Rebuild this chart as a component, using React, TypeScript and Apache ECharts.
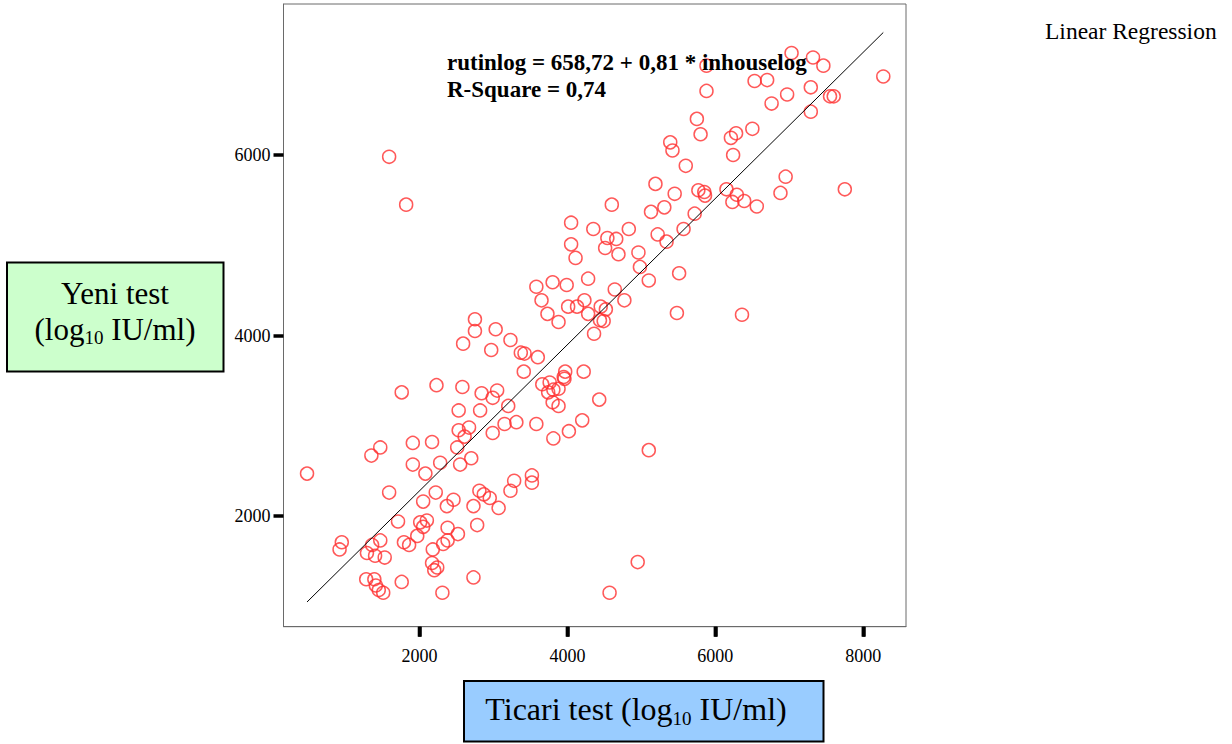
import React, { useEffect, useRef } from "react";
import * as echarts from "echarts";

// Ticari test (x) values
const ticariTest = [
  7030, 7320, 7460, 5880, 8270, 6530, 6700, 5880, 7290, 6970,
  6760, 7550, 7600, 7290, 5750, 5800, 6500, 6280, 6210, 5390,
  5420, 6240, 1590, 5600, 6950, 7750, 6880, 5190, 5450, 5770,
  5850, 5860, 6150, 6290, 6230, 6390, 6560, 4600, 5130, 5310,
  5720, 1820, 4050, 4350, 4830, 5570, 4540, 4660, 4510, 4690,
  5220, 5340, 4960, 4050, 4110, 4980, 5100, 5510, 4280, 3580,
  3800, 3990, 4640, 3650, 3730, 3880, 4010, 4130, 4230, 4280,
  4450, 4520, 4440, 4490, 4360, 4770, 5480, 6360, 2750, 2750,
  3030, 3230, 2590, 2970, 3370, 3420, 3600, 3410, 4430, 4220,
  1760, 2230, 2580, 2840, 3050, 2990, 3200, 2530, 2820, 3660,
  3760, 3810, 3880, 3740, 3970, 3950, 3960, 3800, 3880, 4200,
  4020, 3810, 3580, 3310, 3150, 2990, 2530, 2670, 2610, 2510,
  2700, 1910, 2170, 1470, 1350, 5100, 2550, 2280, 2080, 1910,
  480, 1590, 2220, 2050, 2370, 2460, 2730, 2810, 2870, 2950,
  3070, 3230, 3280, 3520, 3520, 1710, 2010, 2100, 2050, 1970,
  2380, 2520, 2380, 2320, 2780, 1790, 1860, 2180, 1470, 1360,
  1290, 1400, 1530, 950, 920, 2170, 2200, 2240, 1280, 1390,
  1410, 1450, 1510, 1760, 2310, 2730, 4950, 4570,
];

// Yeni test (y) values
const yeniTest = [
  7130, 7080, 6990, 6990, 6870, 6820, 6830, 6710, 6750, 6670,
  6570, 6650, 6650, 6480, 6400, 6230, 6290, 6240, 6190, 6140,
  6050, 6000, 5980, 5880, 5760, 5620, 5580, 5680, 5570, 5610,
  5590, 5550, 5620, 5560, 5480, 5490, 5430, 5450, 5370, 5420,
  5350, 5450, 5250, 5180, 5180, 5180, 5080, 5070, 4970, 4900,
  5120, 5040, 4920, 5010, 4860, 4760, 4610, 4690, 4630, 4540,
  4590, 4560, 4510, 4390, 4240, 4150, 4320, 4320, 4390, 4240,
  4320, 4290, 4170, 4160, 4020, 4390, 4250, 4230, 4180, 4050,
  4070, 3950, 3910, 3840, 3810, 3800, 3760, 3600, 3290, 3600,
  3370, 3450, 3430, 3360, 3390, 3310, 3220, 3170, 3170, 3460,
  3480, 3400, 3410, 3370, 3600, 3540, 3520, 3260, 3220, 3060,
  2940, 2860, 3020, 3040, 3020, 2920, 2950, 2980, 2880, 2760,
  2640, 2810, 2820, 2760, 2670, 2730, 2570, 2590, 2470, 2570,
  2470, 2260, 2260, 2160, 2110, 2180, 2110, 2280, 2240, 2200,
  2090, 2280, 2390, 2450, 2370, 1940, 1930, 1950, 1880, 1780,
  1870, 1800, 1730, 1690, 1900, 1710, 1680, 1630, 1730, 1680,
  1590, 1560, 1540, 1710, 1630, 1480, 1400, 1430, 1300, 1300,
  1230, 1180, 1150, 1270, 1150, 1320, 1490, 1150,
];

const xTickValues = [2000, 4000, 6000, 8000];
const yTickValues = [2000, 4000, 6000];

const intercept = 658.72;
const slope = 0.81;

const equationText = "rutinlog = 658,72 + 0,81 * inhouselog";
const rSquareText = "R-Square = 0,74";
const legendText = "Linear Regression";
const yTitleLine1 = "Yeni test";
const xTitleMain = "Ticari test";

const SERIF = '"Liberation Serif", "Times New Roman", serif';

const X_MIN = 162;
const X_MAX = 8577;
const Y_MIN = 774;
const Y_MAX = 7673;

const GRID_LEFT = 283.5;
const GRID_TOP = 4;
const GRID_W = 622.5;
const GRID_H = 622.7;

export default function App() {
  const ref = useRef<HTMLDivElement>(null);

  useEffect(() => {
    if (!ref.current) return;
    const chart = echarts.init(ref.current, null, { renderer: "svg" });

    const points = ticariTest.map((x, i) => [x, yeniTest[i]]);
    const xMin = Math.min(...ticariTest);
    const xMax = Math.max(...ticariTest);
    const fitLine = [
      [xMin, intercept + slope * xMin],
      [xMax, intercept + slope * xMax],
    ];

    chart.setOption({
      animation: false,
      grid: {
        left: GRID_LEFT,
        top: GRID_TOP,
        width: GRID_W,
        height: GRID_H,
        show: true,
        borderColor: "#6a6a6a",
        borderWidth: 1,
      },
      xAxis: {
        type: "value",
        min: X_MIN,
        max: X_MAX,
        axisLine: { show: true, onZero: false, lineStyle: { color: "#6a6a6a", width: 1 } },
        splitLine: { show: false },
        axisTick: {
          show: true,
          customValues: xTickValues,
          length: 10,
          lineStyle: { color: "#000", width: 3.5 },
        },
        axisLabel: {
          show: true,
          customValues: xTickValues,
          margin: 20,
          color: "#000",
          fontSize: 18,
          fontFamily: SERIF,
          formatter: (v: number) => String(v),
        },
      },
      yAxis: {
        type: "value",
        min: Y_MIN,
        max: Y_MAX,
        axisLine: { show: true, onZero: false, lineStyle: { color: "#6a6a6a", width: 1 } },
        splitLine: { show: false },
        axisTick: {
          show: true,
          customValues: yTickValues,
          length: 10,
          lineStyle: { color: "#000", width: 3.5 },
        },
        axisLabel: {
          show: true,
          customValues: yTickValues,
          margin: 13,
          color: "#000",
          fontSize: 18,
          fontFamily: SERIF,
          formatter: (v: number) => String(v),
        },
      },
      series: [
        {
          type: "custom",
          clip: false,
          z: 10,
          data: xTickValues.map((v) => [v, Y_MIN]),
          encode: { x: 0, y: 1 },
          renderItem: (_params: any, api: any) => {
            const p = api.coord([api.value(0), api.value(1)]);
            return {
              type: "rect",
              shape: { x: p[0] - 1.75, y: p[1], width: 3.5, height: 10 },
              style: { fill: "#000" },
            };
          },
        },
        {
          type: "scatter",
          data: points,
          symbol: "circle",
          symbolSize: 13,
          itemStyle: {
            color: "rgba(255,255,255,0)",
            borderColor: "#ff3030",
            borderWidth: 1.5,
          },
          z: 2,
        },
        {
          type: "line",
          data: fitLine,
          symbol: "none",
          lineStyle: { color: "#000", width: 1 },
          z: 3,
        },
      ],
      graphic: [
        {
          type: "text",
          x: 447,
          y: 62,
          z: 10,
          style: {
            text: equationText,
            fontSize: 23,
            fontWeight: "bold",
            fontFamily: SERIF,
            fill: "#000",
            align: "left",
            verticalAlign: "middle",
          },
        },
        {
          type: "text",
          x: 447,
          y: 89,
          z: 10,
          style: {
            text: rSquareText,
            fontSize: 23,
            fontWeight: "bold",
            fontFamily: SERIF,
            fill: "#000",
            align: "left",
            verticalAlign: "middle",
          },
        },
        {
          type: "text",
          x: 1045,
          y: 31,
          z: 10,
          style: {
            text: legendText,
            fontSize: 23.5,
            fontFamily: SERIF,
            fill: "#000",
            align: "left",
            verticalAlign: "middle",
          },
        },
        {
          type: "rect",
          z: 20,
          shape: { x: 7, y: 262.5, width: 216.5, height: 109 },
          style: { fill: "#ccffcc", stroke: "#000", lineWidth: 2 },
        },
        {
          type: "text",
          x: 115,
          y: 311,
          z: 21,
          style: {
            text: `{a|${yTitleLine1}}\n{a|(log}{s|10}{a| IU/ml)}`,
            align: "center",
            verticalAlign: "middle",
            fill: "#000",
            rich: {
              a: { fontSize: 31, fontFamily: SERIF, lineHeight: 36, fill: "#000" },
              s: { fontSize: 19, fontFamily: SERIF, lineHeight: 20, verticalAlign: "bottom", fill: "#000" },
            },
          },
        },
        {
          type: "rect",
          z: 20,
          shape: { x: 464, y: 681, width: 359.5, height: 60.5 },
          style: { fill: "#99ccff", stroke: "#000", lineWidth: 2 },
        },
        {
          type: "text",
          x: 636,
          y: 709,
          z: 21,
          style: {
            text: `{a|${xTitleMain} (log}{s|10}{a| IU/ml)}`,
            align: "center",
            verticalAlign: "middle",
            fill: "#000",
            rich: {
              a: { fontSize: 32, fontFamily: SERIF, lineHeight: 38, fill: "#000" },
              s: { fontSize: 19, fontFamily: SERIF, lineHeight: 22, verticalAlign: "bottom", fill: "#000" },
            },
          },
        },
      ],
    });

    return () => chart.dispose();
  }, []);

  return (
    <div
      ref={ref}
      style={{ position: "absolute", left: 0, top: 0, width: 1232, height: 744, background: "#fff" }}
    />
  );
}
